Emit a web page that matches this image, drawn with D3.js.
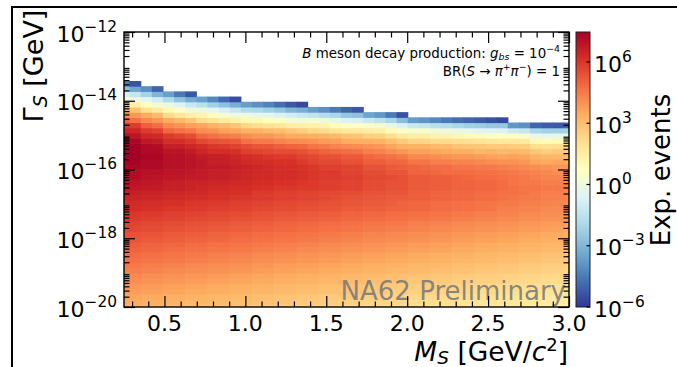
<!DOCTYPE html>
<html><head><meta charset="utf-8">
<script src="https://cdn.jsdelivr.net/npm/d3@7"></script>
<style>
body{margin:0;background:#fff}
svg{display:block;font-family:"DejaVu Sans",sans-serif}
text{white-space:pre}
</style>
</head><body>
<svg id="chart" width="677" height="367"></svg>
<script>
// ---- data ----
// mass bin centres (GeV/c^2)
const massCenters = [0.25,0.31875,0.3875,0.45625,0.525,0.59375,0.6625,0.73125,0.8,0.86875,0.9375,1.00625,1.075,1.14375,1.2125,1.28125,1.35,1.41875,1.4875,1.55625,1.625,1.69375,1.7625,1.83125,1.9,1.96875,2.0375,2.10625,2.175,2.24375,2.3125,2.38125,2.45,2.51875,2.5875,2.65625,2.725,2.79375,2.8625,2.93125,3.0];
// log10(Gamma_S / GeV) bin centres
const logWidthCenters = [-20,-19.849,-19.698,-19.547,-19.396,-19.245,-19.094,-18.943,-18.792,-18.642,-18.491,-18.34,-18.189,-18.038,-17.887,-17.736,-17.585,-17.434,-17.283,-17.132,-16.981,-16.83,-16.679,-16.528,-16.377,-16.226,-16.075,-15.925,-15.774,-15.623,-15.472,-15.321,-15.17,-15.019,-14.868,-14.717,-14.566,-14.415,-14.264,-14.113,-13.962,-13.811,-13.66,-13.509,-13.358,-13.208,-13.057,-12.906,-12.755,-12.604,-12.453,-12.302,-12.151,-12.0];
// 10*log10(expected events): one list per mass column, from the lowest width upward; cells past the end are empty
const logEventsTenths = [
[33,35,36,38,39,41,42,44,45,47,48,50,51,53,54,56,57,59,60,62,63,65,66,68,69,71,71,73,74,75,75,75,73,70,65,60,50,42,33,18,4,-8,-27,-45],
[33,35,36,38,39,41,42,44,45,47,48,50,51,53,54,56,57,59,60,62,63,65,66,68,69,71,71,73,74,75,75,75,73,69,64,59,47,39,29,14,0,-13,-35,-54],
[32,34,35,37,38,40,41,43,44,46,47,49,50,52,53,55,56,58,59,61,62,64,65,67,68,69,70,72,72,73,72,72,68,64,59,51,42,35,20,8,-4,-21,-40],
[32,34,35,37,38,40,41,43,44,46,47,49,50,52,53,55,56,58,59,61,62,64,65,67,68,69,70,72,72,73,72,71,67,63,57,48,39,31,16,3,-10,-30,-50],
[31,33,34,36,37,39,40,42,43,45,46,48,49,51,52,54,55,57,58,60,61,63,64,66,66,68,69,70,70,70,69,66,62,59,49,42,35,22,10,-1,-18,-36],
[31,33,34,36,37,39,40,42,43,45,46,48,49,51,52,54,55,57,58,60,61,63,64,66,66,68,69,70,70,70,69,66,62,57,47,40,32,18,5,-6,-26,-45],
[30,32,33,35,36,38,39,41,42,44,45,47,48,50,51,53,54,56,57,59,60,62,63,65,65,67,68,69,69,69,67,64,60,55,45,37,28,14,0,-12,-33,-53],
[30,32,33,35,36,38,39,41,42,44,45,47,48,50,51,53,54,56,57,59,60,62,63,64,65,67,67,68,68,67,64,62,56,49,41,36,22,12,0,-16,-36],
[29,31,32,34,35,37,38,40,41,43,44,46,47,49,50,52,53,55,56,58,59,61,62,63,64,66,66,67,66,66,62,60,54,47,40,33,19,8,-4,-22,-42],
[29,31,32,34,35,37,38,40,41,43,44,46,47,49,50,52,53,55,56,58,59,61,62,63,64,66,66,67,66,66,62,59,53,45,37,31,16,4,-8,-27,-49],
[28,30,31,33,34,36,37,39,40,42,43,45,46,48,49,51,52,54,55,57,58,60,61,62,63,65,65,66,65,64,61,57,52,44,36,28,14,1,-13,-32,-55],
[28,30,31,33,34,36,37,39,40,42,43,45,46,48,49,51,52,54,55,57,58,60,61,62,63,64,64,65,63,62,58,55,47,41,33,23,11,1,-18,-37],
[27,29,30,32,33,35,36,38,39,41,42,44,45,47,48,50,51,53,54,56,57,59,59,61,62,63,63,64,62,61,57,53,45,39,33,21,10,-2,-19,-40],
[27,29,30,32,33,35,36,38,39,41,42,44,45,47,48,50,51,53,54,56,57,59,59,61,62,63,63,63,62,60,56,53,45,39,31,20,8,-3,-22,-43],
[26,28,29,31,32,34,35,37,38,40,41,43,44,46,47,49,50,52,53,55,56,58,58,60,61,62,62,62,61,59,55,51,43,37,30,18,6,-7,-25,-48],
[26,28,29,31,32,34,35,37,38,40,41,43,44,46,47,49,50,52,53,55,56,58,58,60,61,62,62,62,61,59,55,50,42,35,28,15,2,-9,-30,-53],
[25,27,28,30,31,33,34,36,37,39,40,42,43,45,46,48,49,51,52,54,55,57,57,59,60,61,61,61,59,57,54,49,41,35,26,14,1,-12,-32,-56],
[25,27,28,30,31,33,34,36,37,39,40,42,43,45,46,48,49,51,52,54,55,57,57,59,59,60,60,60,57,56,52,46,40,34,23,13,2,-14,-37],
[24,26,27,29,30,32,33,35,36,38,39,41,42,44,45,47,48,50,51,53,54,56,56,58,58,59,59,58,56,54,50,45,38,33,22,12,0,-17,-40],
[24,26,27,29,30,32,33,35,36,38,39,41,42,44,45,47,48,50,51,53,54,55,56,58,58,59,59,58,56,54,49,43,37,32,19,9,-3,-20,-45],
[23,25,26,28,29,31,32,34,35,37,38,40,41,43,44,46,47,49,50,52,53,54,55,57,57,58,57,57,54,52,48,42,35,29,17,6,-7,-25,-50],
[23,25,26,28,29,31,32,34,35,37,38,40,41,43,44,46,47,49,50,52,53,54,55,57,57,58,57,57,54,52,47,41,34,28,17,6,-8,-27,-53],
[22,24,25,27,28,30,31,33,34,36,37,39,40,42,43,45,46,48,49,51,52,53,54,55,55,56,55,54,51,49,44,40,34,25,15,5,-12,-35],
[22,24,25,27,28,30,31,33,34,36,37,39,40,42,43,45,46,48,49,51,52,53,54,55,55,56,55,54,51,48,43,39,33,25,14,3,-15,-38],
[21,23,24,26,27,29,30,32,33,35,36,38,39,41,42,44,45,47,48,50,51,52,53,54,54,55,53,52,49,47,41,36,30,21,9,-2,-20,-45],
[21,23,24,26,27,29,30,32,33,35,36,38,39,41,42,44,45,47,48,50,50,52,53,54,54,54,53,51,49,45,39,34,27,17,5,-7,-28,-54],
[20,22,23,25,26,28,29,31,32,34,35,37,38,40,41,43,44,46,47,49,49,51,51,52,52,52,50,50,46,42,37,33,24,15,4,-12,-37],
[20,22,23,25,26,28,29,31,32,34,35,37,38,40,41,43,44,46,47,49,49,51,51,52,52,52,50,49,46,42,37,33,24,15,4,-13,-39],
[19,21,22,24,25,27,28,30,31,33,34,36,37,39,40,42,43,45,46,48,48,50,50,51,51,51,49,48,44,41,36,31,22,13,1,-16,-42],
[19,21,22,24,25,27,28,30,31,33,34,36,37,39,40,42,43,45,46,48,48,50,50,51,51,51,48,48,44,40,35,31,22,12,0,-17,-45],
[18,20,21,23,24,26,27,29,30,32,33,35,36,38,39,41,42,44,45,47,47,49,49,50,50,50,48,46,43,39,34,29,21,11,-2,-20,-48],
[18,20,21,23,24,26,27,29,30,32,33,35,36,38,39,41,42,44,45,47,47,49,49,50,50,49,48,46,43,39,34,28,20,9,-3,-22,-50],
[17,19,20,22,23,25,26,28,29,31,32,34,35,37,38,40,41,43,44,46,46,48,48,49,49,48,47,45,42,38,32,28,19,9,-5,-23,-52],
[17,19,20,22,23,25,26,28,29,31,32,34,35,37,38,40,41,43,44,46,46,48,48,49,49,48,47,45,41,37,33,27,18,7,-5,-25,-54],
[16,18,19,21,22,24,25,27,28,30,31,33,34,36,37,39,40,42,43,44,45,47,47,48,48,47,46,44,40,36,31,27,17,7,-7,-25,-56],
[16,18,19,21,22,24,25,27,28,30,31,33,34,36,37,39,40,42,43,44,45,46,47,47,46,46,45,43,40,37,32,26,17,7,-11,-38],
[15,17,18,20,21,23,24,26,27,29,30,32,33,35,36,38,39,41,42,43,44,45,46,46,45,45,44,42,39,36,31,26,16,5,-13,-40],
[15,17,18,20,21,23,24,26,27,29,30,32,33,35,36,38,39,41,42,43,44,45,45,46,45,44,43,41,36,33,28,21,10,-1,-20,-50],
[14,16,17,19,20,22,23,25,26,28,29,31,32,34,35,37,38,40,41,42,43,44,44,45,44,43,42,40,35,32,26,20,9,-3,-22,-52],
[14,16,17,19,20,22,23,25,26,28,29,31,32,34,35,37,38,40,41,42,43,44,44,45,44,43,41,39,36,32,27,21,10,-2,-22,-53],
[13,15,16,18,19,21,22,24,25,27,28,30,31,33,34,36,37,39,40,41,42,43,43,44,43,42,41,39,35,32,27,21,10,-2,-21,-52]
];
const xTickValues = [0.5,1.0,1.5,2.0,2.5,3.0];
const xTickLabels = ["0.5","1.0","1.5","2.0","2.5","3.0"];
const yTickExponents = [-12,-14,-16,-18,-20];
const cbarTickExponents = [6,3,0,-3,-6];
const cmapStops = ["#313695","#4575b4","#74add1","#abd9e9","#e0f3f8","#ffffbf","#fee090","#fdae61","#f46d43","#d73027","#a50026"];

// ---- drawing ----
const svg = d3.select("#chart");
const X0 = 124, X1 = 569, Y0 = 32, Y1 = 307;
const x = d3.scaleLinear().domain([0.25, 3.0]).range([X0, X1]);
const y = d3.scaleLog().domain([1e-20, 1e-12]).range([Y1, Y0]);
const vminLog = -6, vmaxLog = 7.47;
const color = d3.scaleLinear()
  .domain(cmapStops.map((c, i) => vminLog + i * (vmaxLog - vminLog) / (cmapStops.length - 1)))
  .range(cmapStops).interpolate(d3.interpolateRgb).clamp(true);

// figure frame
svg.append("line").attr("x1", 11).attr("x2", 677).attr("y1", 7).attr("y2", 7).attr("stroke", "#000").attr("stroke-width", 2);
svg.append("line").attr("x1", 12).attr("x2", 12).attr("y1", 6).attr("y2", 367).attr("stroke", "#000").attr("stroke-width", 2);

svg.append("clipPath").attr("id", "plotclip").append("rect")
  .attr("x", X0).attr("y", Y0).attr("width", X1 - X0).attr("height", Y1 - Y0);

const halfX = (massCenters[1] - massCenters[0]) / 2;
const halfY = (logWidthCenters[1] - logWidthCenters[0]) / 2;
const cells = [];
logEventsTenths.forEach((col, k) => col.forEach((v, j) => {
  cells.push({ m: massCenters[k], lg: logWidthCenters[j], v: v / 10 });
}));
svg.append("g").attr("clip-path", "url(#plotclip)")
  .selectAll("rect").data(cells).join("rect")
  .attr("x", d => x(d.m - halfX))
  .attr("width", d => x(d.m + halfX) - x(d.m - halfX) + 0.6)
  .attr("y", d => y(Math.pow(10, d.lg + halfY)) - 0.3)
  .attr("height", d => y(Math.pow(10, d.lg - halfY)) - y(Math.pow(10, d.lg + halfY)) + 0.6)
  .attr("fill", d => color(d.v));

// NA62 watermark
svg.append("text").attr("x", 566).attr("y", 300).attr("text-anchor", "end")
  .attr("font-size", 26).attr("fill", "#7a7a7a").attr("fill-opacity", 0.9).text("NA62 Preliminary");

// annotation
const ann1 = svg.append("text").attr("x", 560).attr("y", 58).attr("text-anchor", "end").attr("font-size", 13.4).attr("fill", "#000");
ann1.append("tspan").attr("font-style", "italic").text("B");
ann1.append("tspan").text(" meson decay production: ");
ann1.append("tspan").attr("font-style", "italic").text("g");
ann1.append("tspan").attr("font-style", "italic").attr("font-size", 9.4).attr("dy", 2.4).text("bs");
ann1.append("tspan").attr("dy", -2.4).text(" = 10");
ann1.append("tspan").attr("font-size", 9.4).attr("dy", -5.6).text("\u22124");
const ann2 = svg.append("text").attr("x", 560).attr("y", 76).attr("text-anchor", "end").attr("font-size", 13.4).attr("fill", "#000");
ann2.append("tspan").text("BR(");
ann2.append("tspan").attr("font-style", "italic").text("S");
ann2.append("tspan").text(" \u2192 ");
ann2.append("tspan").attr("font-style", "italic").text("\u03c0");
ann2.append("tspan").attr("font-size", 9.4).attr("dy", -5.6).text("+");
ann2.append("tspan").attr("font-style", "italic").attr("dy", 5.6).text("\u03c0");
ann2.append("tspan").attr("font-size", 9.4).attr("dy", -5.6).text("\u2212");
ann2.append("tspan").attr("dy", 5.6).text(") = 1");

// axes ticks (inward on all four sides)
const xMinor = d3.range(3, 30).map(i => i / 10).filter(v => Math.abs(v * 2 - Math.round(v * 2)) > 1e-6);
const yMajor = d3.range(-20, -11, 2).map(e => Math.pow(10, e));
const yMinor = [];
for (let e = -20; e < -12; e++) for (let s = 2; s <= 9; s++) yMinor.push(s * Math.pow(10, e));
const MAJ = 11, MIN = 5.5;
function ticks(axisFn, scale, vals, size, tr) {
  const g = svg.append("g").attr("transform", tr)
    .call(axisFn(scale).tickValues(vals).tickSize(-size).tickSizeOuter(0).tickFormat(() => ""));
  g.select(".domain").remove();
  g.selectAll("text").remove();
  g.selectAll("line").attr("stroke", "#000").attr("stroke-width", 1.2);
}
ticks(d3.axisBottom, x, xTickValues, MAJ, `translate(0,${Y1})`);
ticks(d3.axisBottom, x, xMinor, MIN, `translate(0,${Y1})`);
ticks(d3.axisTop, x, xTickValues, MAJ, `translate(0,${Y0})`);
ticks(d3.axisTop, x, xMinor, MIN, `translate(0,${Y0})`);
ticks(d3.axisLeft, y, yMajor, MAJ, `translate(${X0},0)`);
ticks(d3.axisLeft, y, yMinor, MIN, `translate(${X0},0)`);
ticks(d3.axisRight, y, yMajor, MAJ, `translate(${X1},0)`);
ticks(d3.axisRight, y, yMinor, MIN, `translate(${X1},0)`);

// spines
svg.append("rect").attr("x", X0).attr("y", Y0).attr("width", X1 - X0).attr("height", Y1 - Y0)
  .attr("fill", "none").attr("stroke", "#000").attr("stroke-width", 1.4);

// tick labels
xTickValues.forEach((v, i) => {
  svg.append("text").attr("x", x(v)).attr("y", 331).attr("text-anchor", "middle")
    .attr("font-size", 22).attr("fill", "#000").text(xTickLabels[i]);
});
function powLabel(xp, yp, e) {
  const t = svg.append("text").attr("x", xp).attr("y", yp).attr("font-size", 22).attr("fill", "#000");
  t.append("tspan").text("10");
  t.append("tspan").attr("font-size", 15.4).attr("dy", -10).text(e < 0 ? "\u2212" + (-e) : String(e));
  return t;
}
yTickExponents.forEach(e => powLabel(117, y(Math.pow(10, e)) + 9.5, e).attr("text-anchor", "end"));

// axis titles
const xt = svg.append("text").attr("x", 568).attr("y", 361).attr("text-anchor", "end").attr("font-size", 26.5).attr("fill", "#000");
xt.append("tspan").attr("font-style", "italic").text("M");
xt.append("tspan").attr("font-style", "italic").attr("font-size", 18.5).attr("dy", 3).text("S");
xt.append("tspan").attr("dy", -3).text(" [GeV/");
xt.append("tspan").attr("font-style", "italic").text("c");
xt.append("tspan").attr("font-size", 18).attr("dy", -10).text("2");
xt.append("tspan").attr("dy", 10).text("]");

const yt = svg.append("text").attr("transform", "translate(43,66) rotate(-90)").attr("text-anchor", "middle").attr("font-size", 27).attr("fill", "#000");
yt.append("tspan").text("\u0393");
yt.append("tspan").attr("font-style", "italic").attr("font-size", 19).attr("dy", 4).text("S");
yt.append("tspan").attr("dy", -4).text(" [GeV]");

// colorbar
const CB0 = 576, CB1 = 590;
const cy = d3.scaleLinear().domain([vminLog, vmaxLog]).range([Y1, Y0]);
const grad = svg.append("defs").append("linearGradient").attr("id", "cbgrad")
  .attr("x1", 0).attr("y1", 1).attr("x2", 0).attr("y2", 0);
d3.range(0, 1.0001, 0.02).forEach(t => {
  grad.append("stop").attr("offset", t).attr("stop-color", color(vminLog + t * (vmaxLog - vminLog)));
});
svg.append("rect").attr("x", CB0).attr("y", Y0).attr("width", CB1 - CB0).attr("height", Y1 - Y0)
  .attr("fill", "url(#cbgrad)").attr("stroke", "#222").attr("stroke-width", 1);
cbarTickExponents.forEach(e => {
  svg.append("line").attr("x1", CB1 - 3.5).attr("x2", CB1).attr("y1", cy(e)).attr("y2", cy(e))
    .attr("stroke", "#000").attr("stroke-width", 1.2);
  powLabel(594, cy(e) + 9.5, e);
});
svg.append("text").attr("transform", "translate(670,170) rotate(-90)").attr("text-anchor", "middle")
  .attr("font-size", 26).attr("fill", "#000").text("Exp. events");
</script>
</body></html>
